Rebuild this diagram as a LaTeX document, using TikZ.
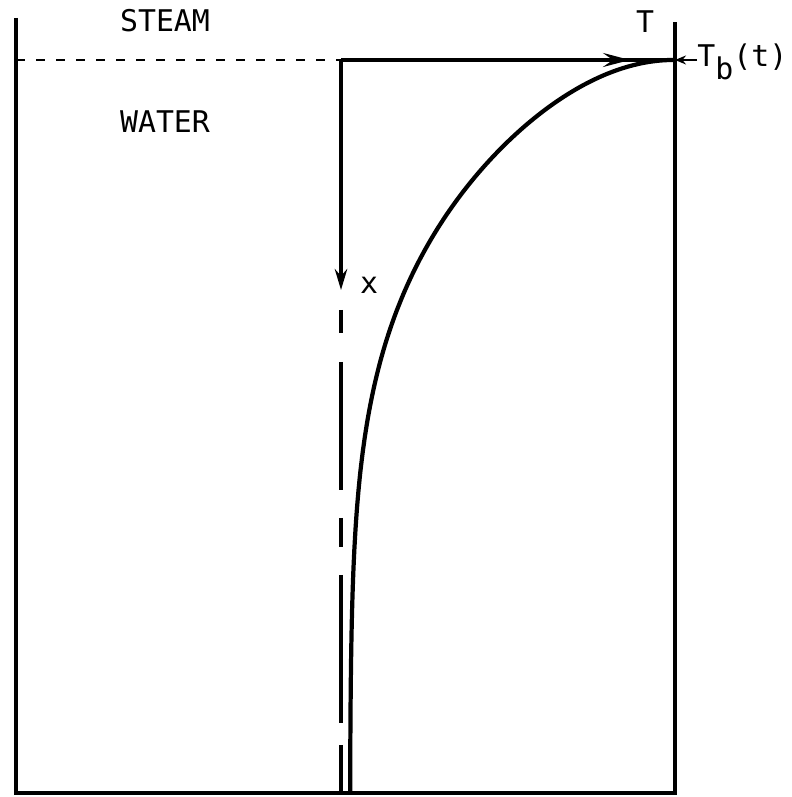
\documentclass[tikz,border=0pt]{standalone}
\usepackage{fontspec}
\setmonofont{DejaVu Sans Mono}
\usetikzlibrary{arrows.meta}

\tikzset{
  wall/.style={line width=2.3pt, line join=miter},
  axisline/.style={line width=1.8pt},
  profile/.style={line width=2.4pt},
  lbl/.style={font=\ttfamily\fontsize{17}{20}\selectfont, inner sep=0pt},
  bigtip/.style={-{Stealth[length=5.4mm,width=2.8mm,inset=2mm]}},
  downtip/.style={-{Stealth[length=4.2mm,width=2.5mm,inset=1.4mm]}},
  smalltip/.style={-{Stealth[length=2.2mm,width=1.8mm]}},
}

\begin{document}
\begin{tikzpicture}
    \useasboundingbox (0,0) rectangle (15.82,15.94);
    % vessel
    \coordinate (tl) at (0.32,15.58);
    \coordinate (bl) at (0.32,0.08);
    \coordinate (br) at (13.5,0.08);
    \coordinate (tr) at (13.5,15.5);
    \draw[wall] (tl) -- (bl) -- (br) -- (tr);
    % free surface and axes
    \coordinate (il) at (0.32,14.74);
    \coordinate (o) at (6.82,14.74);
    \coordinate (ir) at (13.5,14.74);
    \coordinate (xt) at (6.82,10.14);
    \coordinate (xd) at (6.82,9.74);
    \coordinate (ob) at (6.82,0.08);
    \coordinate (Tt) at (12.6,14.74);
    \draw[line width=1.5pt, dash pattern=on 0.17cm off 0.23cm] (il) -- (o);
    \draw[axisline] (o) -- (ir);
    \draw[axisline, bigtip] (o) -- (Tt);
    \draw[axisline, downtip] (o) -- (xt);
    \draw[axisline, dash pattern=on 0.46cm off 0.58cm on 2.56cm off 0.56cm on 0.58cm off 0.56cm on 2.96cm off 0.44cm on 1.2cm off 0.1cm] (xd) -- (ob);
    % temperature profile, depth = s^2
    \draw[profile, line join=round] plot[domain=0:3.829, samples=160, variable=\s]
        ({7.0+6.46*exp(-(0.1146*\s*\s+0.3702*\s+0.0211*\s*\s*\s*\s))}, {14.74-\s*\s});
    % labels
    \node[lbl] (steam) at (3.3,15.52) {STEAM};
    \node[lbl] (water) at (3.3,13.5) {WATER};
    \node[lbl] (tax) at (12.9,15.5) {T};
    \node[lbl] (xax) at (7.38,10.24) {x};
    \node[lbl, anchor=base west] (tb) at (13.94,14.6) {T\raisebox{-0.26cm}{b}(t)};
    \draw[smalltip, line width=1.2pt] (tb.west |- ir) -- (ir);
\end{tikzpicture}
\end{document}
